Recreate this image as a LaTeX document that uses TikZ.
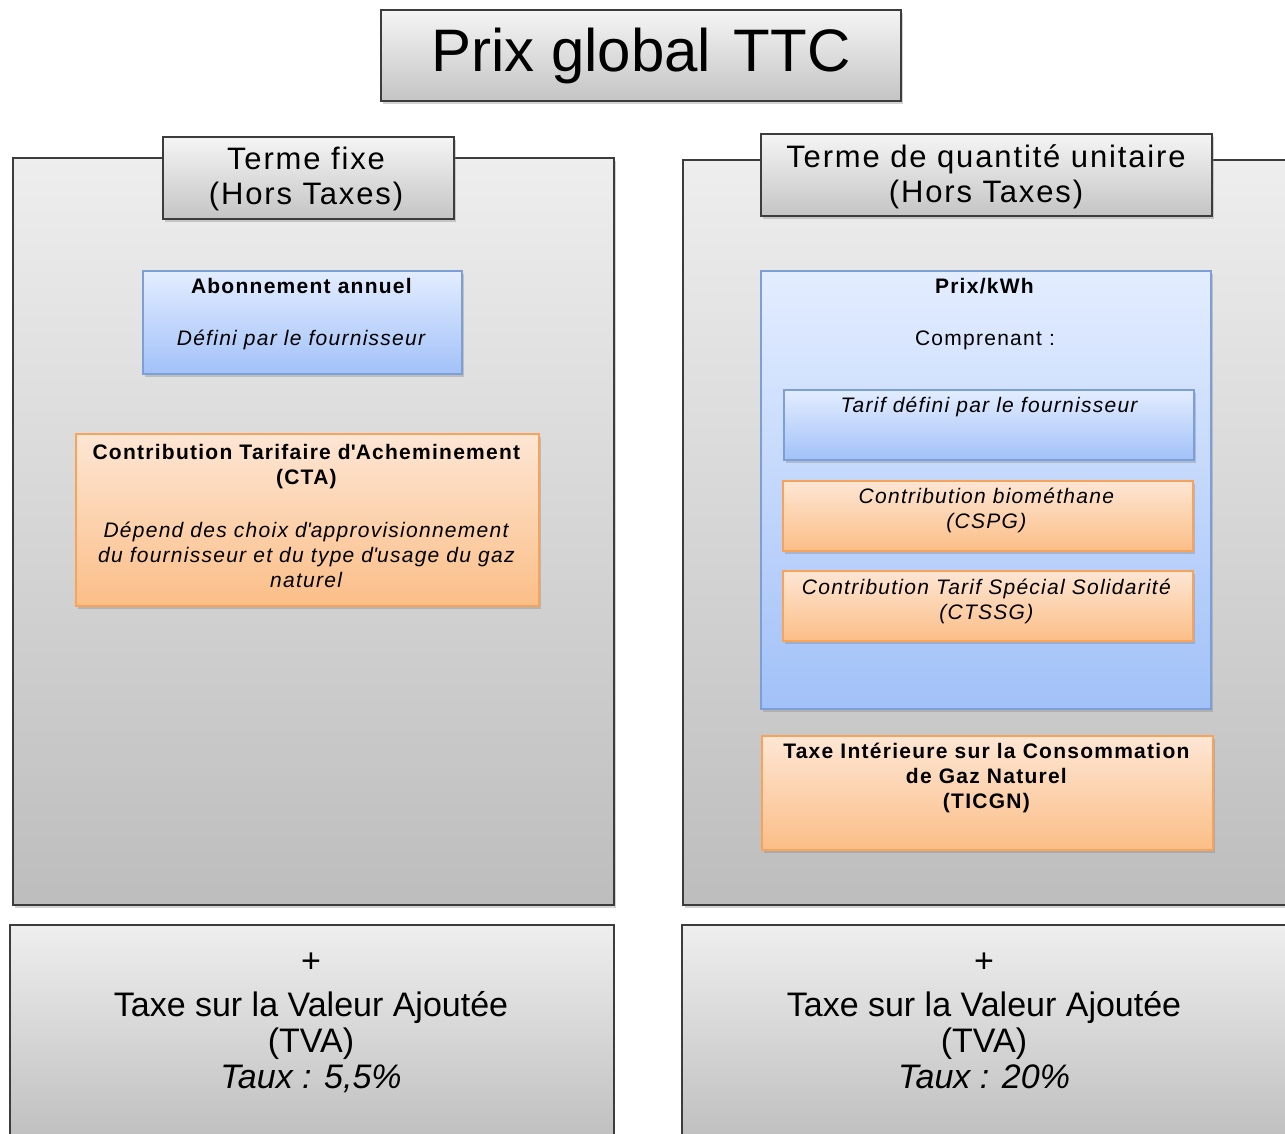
\documentclass[tikz,border=0pt]{standalone}
\usepackage{fontspec}
\setmainfont{Liberation Sans}
\newfontfamily\spacedfont[LetterSpace=6]{Liberation Sans}
\usetikzlibrary{shadows}
\definecolor{grayT}{HTML}{EEEEEE}
\definecolor{grayB}{HTML}{BDBDBD}
\definecolor{grayD}{HTML}{3C3C3C}
\definecolor{blueT}{HTML}{E3EDFF}
\definecolor{blueB}{HTML}{A2C1F8}
\definecolor{blueD}{HTML}{7C9FD6}
\definecolor{orT}{HTML}{FDE6D4}
\definecolor{orB}{HTML}{FBBE87}
\definecolor{orD}{HTML}{F7A35C}
\begin{document}
\begin{tikzpicture}[x=1pt,y=-1pt,
    boxshadow/.style={drop shadow={shadow xshift=2pt,shadow yshift=-3pt,opacity=.35}},
    panel/.style={draw=grayD, line width=2.5pt, top color=grayT, bottom color=grayB, inner sep=0pt},
    headbox/.style={draw=grayD, line width=2pt, top color=black!4, bottom color=black!23, inner sep=0pt, boxshadow},
    bluebox/.style={draw=blueD, line width=2pt, top color=blueT, bottom color=blueB, inner sep=0pt, boxshadow},
    orangebox/.style={draw=orD, line width=2pt, top color=orT, bottom color=orB, inner sep=0pt, boxshadow},
    smalltxt/.style={align=center, inner sep=0pt, font=\spacedfont\fontsize{21}{25}\selectfont},
    headtxt/.style={align=center, inner sep=0pt, font=\spacedfont\fontsize{31}{35}\selectfont},
    tvatxt/.style={align=center, inner sep=0pt, font=\fontsize{34}{36}\selectfont}]
    \useasboundingbox (0,0) rectangle (1285,1133);
    \clip (0,0) rectangle (1285,1133);

    % title
    \node[headbox, minimum width=520pt, minimum height=91pt, font=\fontsize{60}{60}\selectfont] (title) at (641,55.5) {Prix global\hspace{6pt} TTC};

    % two panels
    \node[panel, boxshadow, minimum width=601pt, minimum height=747pt] (panelL) at (313.5,531.5) {};
    \node[panel, boxshadow, minimum width=612pt, minimum height=745pt] (panelR) at (989,532.5) {};
    \node[headbox, minimum width=291pt, minimum height=82pt] (headL) at (308.5,178) {};
    \node[headbox, minimum width=451pt, minimum height=82pt] (headR) at (986.5,175) {};
    \node[headtxt] (headLT) at (306,178.5) {Terme fixe\\(Hors Taxes)};
    \node[headtxt] (headRT) at (986,177) {Terme de quantité unitaire\\(Hors Taxes)};

    % terme fixe
    \node[bluebox, minimum width=319pt, minimum height=103pt] (abo) at (302.5,322.5) {};
    \node[smalltxt] (aboT) at (302,314) {\textbf{Abonnement annuel}\\[27pt]\textit{Défini par le fournisseur}};
    \node[orangebox, minimum width=463pt, minimum height=172pt] (cta) at (307.5,520) {};
    \node[smalltxt] (ctaT) at (307,515.5) {\textbf{Contribution Tarifaire d\textquotesingle Acheminement}\\\textbf{(CTA)}\\[28pt]
        \textit{Dépend des choix d\textquotesingle approvisionnement}\\\textit{du fournisseur et du type d\textquotesingle usage du gaz}\\\textit{naturel}};

    % terme de quantite
    \node[bluebox, minimum width=450pt, minimum height=438pt] (prix) at (986,490) {};
    \node[smalltxt] (prixT) at (985,314) {\textbf{Prix/kWh}\\[27pt]Comprenant :};
    \node[bluebox, minimum width=410pt, minimum height=70pt] (tarif) at (989,425) {};
    \node[smalltxt] (tarifT) at (990,407) {\textit{Tarif défini par le fournisseur}};
    \node[orangebox, minimum width=410pt, minimum height=70pt] (cspg) at (988,516) {};
    \node[smalltxt] (cspgT) at (987,510.5) {\textit{Contribution biométhane}\\\textit{(CSPG)}};
    \node[orangebox, minimum width=410pt, minimum height=70pt] (ctssg) at (988,606) {};
    \node[smalltxt] (ctssgT) at (987,601.5) {\textit{Contribution Tarif Spécial Solidarité}\\\textit{(CTSSG)}};
    \node[orangebox, minimum width=451pt, minimum height=114pt] (ticgn) at (987.5,793) {};
    \node[smalltxt] (ticgnT) at (987,777.5) {\textbf{Taxe Intérieure sur la Consommation}\\\textbf{de Gaz Naturel}\\\textbf{(TICGN)}};

    % TVA
    \node[panel, minimum width=604pt, minimum height=225pt] (tvaL) at (312,1037.5) {};
    \node[panel, minimum width=613pt, minimum height=225pt] (tvaR) at (988.5,1037.5) {};
    \node[tvatxt] (tvaLT) at (311,1023) {+\\[8pt]Taxe sur la Valeur Ajoutée\\(TVA)\\\textit{Taux : 5,5\%}};
    \node[tvatxt] (tvaRT) at (984,1021) {+\\[8pt]Taxe sur la Valeur Ajoutée\\(TVA)\\\textit{Taux : 20\%}};
\end{tikzpicture}
\end{document}
